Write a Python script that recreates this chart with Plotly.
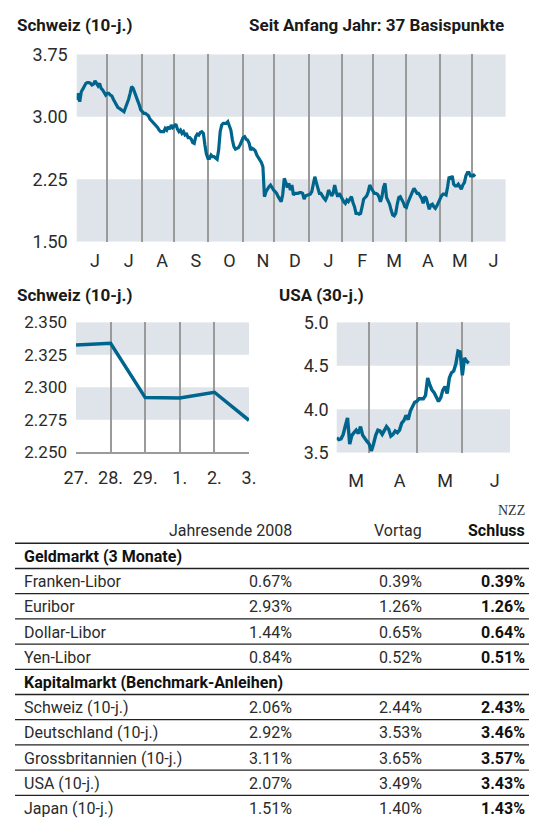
import plotly.graph_objects as go
import pandas as pd

# ---------------- data ----------------
# Schweiz 10-j. (daily, business days 2008-06-03 .. 2009-06-03)
ch_start, ch_end = "2008-06-03", "2009-06-03"
ch_values = [
    3.20, 3.28, 3.18, 3.30, 3.33, 3.37, 3.40, 3.41, 3.41, 3.40, 3.38, 3.39, 3.43, 3.40, 3.37, 3.40, 3.34, 3.32, 3.29, 3.26,
    3.28, 3.28, 3.26, 3.25, 3.21, 3.17, 3.13, 3.11, 3.10, 3.09, 3.08, 3.06, 3.11, 3.15, 3.21, 3.28, 3.36, 3.34, 3.28, 3.25, 3.19, 3.14, 3.08,
    3.06, 3.04, 3.04, 3.02, 3.01, 2.97, 2.95, 2.93, 2.91, 2.90, 2.87, 2.84, 2.82, 2.82, 2.82, 2.86, 2.84, 2.88, 2.85, 2.90, 2.87,
    2.89, 2.91, 2.85, 2.82, 2.84, 2.80, 2.82, 2.78, 2.79, 2.75, 2.75, 2.73, 2.69, 2.68, 2.76, 2.79, 2.78, 2.81, 2.82, 2.80, 2.66, 2.55,
    2.50, 2.50, 2.54, 2.52, 2.52, 2.50, 2.49, 2.60, 2.82, 2.90, 2.92, 2.92, 2.92, 2.94, 2.89, 2.84, 2.72, 2.64, 2.61, 2.62, 2.63, 2.66, 2.70,
    2.75, 2.76, 2.73, 2.72, 2.68, 2.60, 2.62, 2.61, 2.59, 2.54, 2.51, 2.49, 2.45, 2.40, 2.04, 2.10, 2.14, 2.16, 2.18, 2.14,
    2.12, 2.10, 2.08, 2.04, 2.01, 1.98, 2.07, 2.26, 2.21, 2.15, 2.20, 2.12, 2.18, 2.06, 2.08, 2.08, 2.08, 2.09, 2.09, 2.08, 2.01, 2.05, 2.06,
    2.06, 2.07, 2.10, 2.20, 2.28, 2.21, 2.13, 2.08, 2.08, 2.04, 2.02, 2.00, 2.04, 2.12, 2.09, 2.05, 2.08, 2.18, 2.10, 2.04, 2.08, 2.04,
    2.02, 1.98, 1.96, 2.00, 1.98, 2.02, 2.04, 1.97, 1.92, 1.84, 1.84, 1.83, 1.84, 1.92, 2.01, 2.03, 2.05, 2.10, 2.18, 2.14,
    2.10, 2.08, 2.08, 2.07, 2.04, 1.98, 2.04, 2.15, 2.20, 2.03, 1.99, 1.95, 1.88, 1.82, 1.81, 1.84, 1.95, 2.03, 2.04, 2.01, 1.97, 1.92,
    1.91, 1.97, 2.02, 2.06, 2.10, 2.14, 2.11, 2.08, 2.08, 2.05, 2.02, 1.96, 2.04, 2.02, 1.95, 1.89, 1.94, 1.95, 1.92, 1.90, 1.93, 1.98,
    2.01, 2.05, 2.07, 2.07, 2.06, 2.16, 2.28, 2.25, 2.29, 2.19, 2.17, 2.17, 2.19, 2.16, 2.13, 2.18, 2.21, 2.29, 2.33, 2.33, 2.29,
    2.29, 2.30, 2.28,
]
ch_xrange = ["2008-06-03", "2009-07-01"]
ch_month_starts = ["2008-07-01", "2008-08-01", "2008-09-01", "2008-10-01", "2008-11-03", "2008-12-01",
                   "2009-01-01", "2009-02-02", "2009-03-02", "2009-04-01", "2009-05-01", "2009-06-01"]
ch_label_dates = ["2008-06-19", "2008-07-21", "2008-08-20", "2008-09-19", "2008-10-21", "2008-11-20", "2008-12-19",
                  "2009-01-20", "2009-02-19", "2009-03-20", "2009-04-21", "2009-05-20", "2009-06-19"]
ch_month_labels = ["J", "J", "A", "S", "O", "N", "D", "J", "F", "M", "A", "M", "J"]
ch_yticks = [1.50, 2.25, 3.00, 3.75]

# Schweiz 10-j., last days
ch5_days = ["27.", "28.", "29.", "1.", "2.", "3."]
ch5_values = [2.3325, 2.3338, 2.2921, 2.2918, 2.2962, 2.2746]
ch5_yticks = [2.250, 2.275, 2.300, 2.325, 2.350]

# USA 30-j.
us_start, us_end = "2009-03-11", "2009-06-04"
us_values = [
    3.67, 3.65, 3.66, 3.71, 3.81, 3.90, 3.60, 3.70, 3.73, 3.76, 3.72, 3.80, 3.70, 3.66, 3.63,
    3.60, 3.52, 3.60, 3.70, 3.76, 3.75, 3.71, 3.76, 3.80, 3.77, 3.69, 3.71, 3.75, 3.73, 3.76, 3.84, 3.87, 3.93, 3.88, 3.98, 4.03, 4.08,
    4.09, 4.12, 4.12, 4.12, 4.16, 4.36, 4.28, 4.22, 4.19, 4.14, 4.09, 4.13, 4.22, 4.26, 4.18, 4.36, 4.42, 4.44, 4.52, 4.67, 4.66,
    4.39, 4.59, 4.55, 4.53,
]
us_xrange = ["2009-03-11", "2009-07-01"]
us_month_starts = ["2009-04-01", "2009-05-01", "2009-06-01"]
us_label_dates = ["2009-03-24", "2009-04-21", "2009-05-20", "2009-06-22"]
us_month_labels = ["M", "A", "M", "J"]
us_yticks = [3.5, 4.0, 4.5, 5.0]

# table
table_header = ["Jahresende 2008", "Vortag", "Schluss"]
money_title = "Geldmarkt (3 Monate)"
money_names = ["Franken-Libor", "Euribor", "Dollar-Libor", "Yen-Libor"]
money_yearend = ["0.67%", "2.93%", "1.44%", "0.84%"]
money_prev = ["0.39%", "1.26%", "0.65%", "0.52%"]
money_close = ["0.39%", "1.26%", "0.64%", "0.51%"]
capital_title = "Kapitalmarkt (Benchmark-Anleihen)"
capital_names = ["Schweiz (10-j.)", "Deutschland (10-j.)", "Grossbritannien (10-j.)", "USA (10-j.)", "Japan (10-j.)"]
capital_yearend = ["2.06%", "2.92%", "3.11%", "2.07%", "1.51%"]
capital_prev = ["2.44%", "3.53%", "3.65%", "3.49%", "1.40%"]
capital_close = ["2.43%", "3.46%", "3.57%", "3.43%", "1.43%"]

# ---------------- style ----------------
W, H = 537, 819
OFF = 8  # page body margin of the browser
FONT = "Roboto, 'Liberation Sans', Arial, sans-serif"
LINE = "#00658c"
BAND = "#dee4ea"
GRID = "#9a9a9a"
TXT = "#2b2b2b"


def px(x):
    return (x - OFF) / W


def py(y):
    return 1 - (y - OFF) / H


fig = go.Figure()

ch_dates = pd.bdate_range(ch_start, ch_end)
fig.add_trace(go.Scatter(x=ch_dates, y=ch_values, mode="lines",
                         line=dict(color=LINE, width=3.2), xaxis="x", yaxis="y", hoverinfo="skip"))
fig.add_trace(go.Scatter(x=list(range(len(ch5_days))), y=ch5_values, mode="lines",
                         line=dict(color=LINE, width=3.5), xaxis="x2", yaxis="y2", hoverinfo="skip"))
us_dates = pd.bdate_range(us_start, us_end)
fig.add_trace(go.Scatter(x=us_dates, y=us_values, mode="lines",
                         line=dict(color=LINE, width=3.4), xaxis="x3", yaxis="y3", hoverinfo="skip"))

tickfont = dict(family=FONT, size=18, color=TXT)
common = dict(automargin=False, zeroline=False, ticks="")

fig.update_layout(
    width=W, height=H, margin=dict(l=0, r=0, t=0, b=0, autoexpand=False),
    paper_bgcolor="white", plot_bgcolor="rgba(0,0,0,0)", showlegend=False,
    xaxis=dict(domain=[px(76.7), px(505.6)], anchor="y", type="date", range=ch_xrange,
               rangebreaks=[dict(bounds=["sat", "mon"])],
               tickmode="array", tickvals=ch_label_dates, ticktext=ch_month_labels,
               showgrid=False, showline=False, ticklabelstandoff=6, tickfont=tickfont,
               minor=dict(tickmode="array", tickvals=ch_month_starts, showgrid=True,
                          gridcolor=GRID, gridwidth=1.5, ticks=""), **common),
    yaxis=dict(domain=[py(241.7), py(54.2)], anchor="x", range=[1.5, 3.75],
               tickmode="array", tickvals=ch_yticks, tickformat=".2f",
               showgrid=False, showline=False, ticklabelstandoff=8, tickfont=tickfont, **common),
    xaxis2=dict(domain=[px(76), px(249)], anchor="y2", range=[0, len(ch5_days) - 1],
                tickmode="array", tickvals=list(range(len(ch5_days))), ticktext=ch5_days,
                showgrid=False, showline=True, linecolor=GRID, linewidth=1.5,
                ticklabelstandoff=8, tickfont=tickfont,
                minor=dict(tickmode="array", tickvals=list(range(1, len(ch5_days) - 1)), showgrid=True,
                           gridcolor=GRID, gridwidth=1.5, ticks=""), **common),
    yaxis2=dict(domain=[py(452.3), py(322.3)], anchor="x2", range=[2.25, 2.35],
                tickmode="array", tickvals=ch5_yticks, tickformat=".3f",
                showgrid=False, showline=False, ticklabelstandoff=8,
                tickfont=dict(family=FONT, size=17, color=TXT), **common),
    xaxis3=dict(domain=[px(336.7), px(510)], anchor="y3", type="date", range=us_xrange,
                rangebreaks=[dict(bounds=["sat", "mon"])],
                tickmode="array", tickvals=us_label_dates, ticktext=us_month_labels,
                showgrid=False, showline=False, ticklabelstandoff=15, tickfont=tickfont,
                minor=dict(tickmode="array", tickvals=us_month_starts, showgrid=True,
                           gridcolor=GRID, gridwidth=1.5, ticks=""), **common),
    yaxis3=dict(domain=[py(452.7), py(322.3)], anchor="x3", range=[3.5, 5.0],
                tickmode="array", tickvals=us_yticks, tickformat=".1f",
                showgrid=False, showline=False, ticklabelstandoff=7, tickfont=tickfont, **common),
)

# background bands
shapes = []
for xa, ya, bands in [("x", "y", [(3.00, 3.75), (1.50, 2.25)]),
                      ("x2", "y2", [(2.325, 2.350), (2.275, 2.300)]),
                      ("x3", "y3", [(4.5, 5.0), (3.5, 4.0)])]:
    for b0, b1 in bands:
        shapes.append(dict(type="rect", xref=f"{xa} domain", yref=ya, x0=0, x1=1, y0=b0, y1=b1,
                           fillcolor=BAND, line=dict(width=0), layer="below"))

annotations = []


def text(x, y, s, anchor="left", size=16, bold=False, color=TXT, family=FONT):
    annotations.append(dict(xref="paper", yref="paper", x=px(x), y=py(y), text=f"<b>{s}</b>" if bold else s,
                            showarrow=False, xanchor=anchor, yanchor="middle",
                            font=dict(family=family, size=size, color=color)))


# chart titles
text(15, 25, "Schweiz (10-j.)", size=17, bold=True, color="#1a1a1a")
text(506, 25, "Seit Anfang Jahr: 37 Basispunkte", anchor="right", size=17, bold=True, color="#1a1a1a")
text(15, 295, "Schweiz (10-j.)", size=17, bold=True, color="#1a1a1a")
text(276.5, 295, "USA (30-j.)", size=17, bold=True, color="#1a1a1a")

# table
COLS = [294, 423.5, 527]
text(527, 510, "NZZ", anchor="right", size=14, color="#333", family="'Liberation Serif', 'DejaVu Serif', serif")
text(COLS[0], 530, table_header[0], anchor="right")
text(COLS[1], 530, table_header[1], anchor="right")
text(COLS[2], 530, table_header[2], anchor="right", bold=True, color="#111")

ROW0, ROWH = 543.3, 25.2
rows = [("title", money_title)]
rows += [("row", (n, a, b, c)) for n, a, b, c in zip(money_names, money_yearend, money_prev, money_close)]
rows += [("title", capital_title)]
rows += [("row", (n, a, b, c)) for n, a, b, c in zip(capital_names, capital_yearend, capital_prev, capital_close)]

for k, (kind, content) in enumerate(rows):
    top = ROW0 + k * ROWH
    shapes.append(dict(type="line", xref="paper", yref="paper", x0=px(15), x1=px(531), y0=py(top), y1=py(top),
                       line=dict(color="#222", width=1.6 if k == 0 else 1.3)))
    yc = top + ROWH / 2 + 0.5
    if kind == "title":
        text(22, yc, content, bold=True, color="#111")
    else:
        n, a, b, c = content
        text(22, yc, n)
        text(COLS[0], yc, a, anchor="right")
        text(COLS[1], yc, b, anchor="right")
        text(COLS[2], yc, c, anchor="right", bold=True, color="#111")

fig.update_layout(shapes=shapes, annotations=annotations)
fig.write_html("out.html")
